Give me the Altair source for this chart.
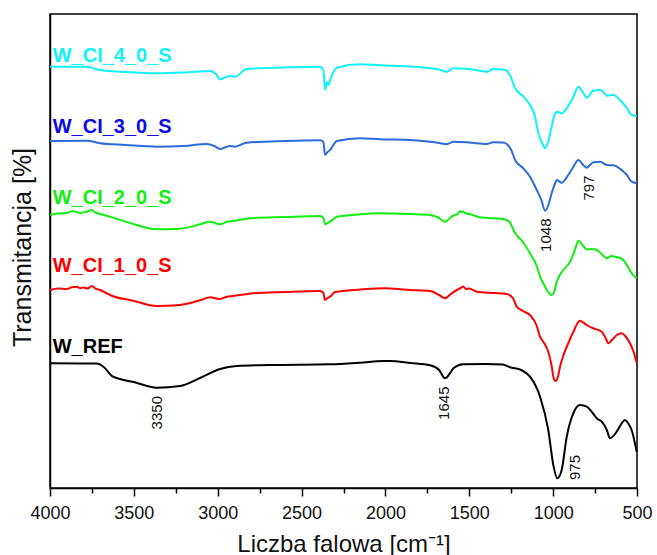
import altair as alt
import pandas as pd

# ---- data ----
series_names = ["W_REF", "W_CI_1_0_S", "W_CI_2_0_S", "W_CI_3_0_S", "W_CI_4_0_S"]
line_colors = ["#000000", "#FF0000", "#11EE11", "#2B6CD9", "#11F2F8"]
label_colors = ["#000000", "#FF0000", "#11EE11", "#0A0AE6", "#11F2F8"]

ref_wn = [4000, 3720, 3680, 3624, 3500, 3364, 3225, 3106, 2986, 2887, 2700, 2330, 2151, 2012, 1973,
          1850, 1734, 1680, 1645, 1610, 1595, 1536, 1400, 1300, 1257, 1190, 1138, 1078, 1029, 999,
          975, 949, 919, 880, 840, 800, 760, 740, 710, 680, 661, 621, 590, 572, 550, 532, 502]
ref_val = [124.7, 124.5, 121, 111.3, 106, 100.3, 102, 110, 119, 122, 123, 123.7, 125.3, 127, 127,
           125, 122.7, 118, 109.7, 116, 119.7, 123.7, 124, 123.5, 120.7, 118, 111.3, 91.3, 58, 23,
           9.7, 18, 51.3, 74.7, 83, 81.3, 74, 69.7, 66.3, 58, 49.7, 56.3, 65, 68, 64, 58, 36.3]

s1_wn = [4000, 3950, 3900, 3870, 3841, 3820, 3800, 3775, 3751, 3730, 3700, 3670, 3642, 3504, 3364,
         3225, 3100, 3046, 3020, 2986, 2950, 2907, 2788, 2600, 2390, 2370, 2360, 2345, 2330, 2300,
         2131, 2012, 1850, 1734, 1680, 1645, 1610, 1575, 1555, 1536, 1520, 1500, 1456, 1350, 1277,
         1240, 1217, 1180, 1138, 1100, 1078, 1050, 1029, 1010, 995, 985, 970, 959, 940, 910, 880,
         840, 800, 761, 730, 710, 690, 671, 650, 620, 592, 570, 542, 520, 502]
s1_val = [198, 199.5, 199, 200.8, 201.3, 199.8, 200.5, 199.5, 202, 199.5, 198, 195.5, 193, 187.3, 182,
          183, 188, 190.7, 190, 189, 191, 192, 194.7, 196, 197, 195, 188, 190, 191.3, 196,
          198.7, 199.7, 198, 197, 193, 189.7, 194, 198, 199.5, 201.5, 199, 199.5, 196.3, 195, 194,
          190, 181.3, 177, 173, 163, 151.3, 144, 136.3, 123, 108.7, 107, 112, 121.3, 132, 144.7, 156,
          167.3, 163, 159.7, 158, 156.3, 151, 144.7, 148, 153, 154.7, 152, 144.7, 136, 125.3]

s2_wn = [4000, 3950, 3900, 3870, 3841, 3820, 3800, 3775, 3751, 3730, 3700, 3670, 3642, 3503, 3364,
         3225, 3100, 3046, 2986, 2950, 2897, 2807, 2600, 2390, 2370, 2360, 2345, 2330, 2290, 2151,
         2032, 1850, 1734, 1680, 1645, 1600, 1570, 1555, 1536, 1520, 1500, 1436, 1297, 1260, 1227,
         1180, 1138, 1100, 1078, 1050, 1030, 1009, 990, 979, 960, 939, 899, 870, 850, 820, 800,
         770, 740, 710, 680, 655, 631, 600, 582, 550, 532, 502]
s2_val = [273, 274.5, 275, 276.8, 276.3, 275, 275.5, 276.5, 278, 275.5, 274, 272.5, 271.3, 264, 258.7,
          259.3, 264, 266.3, 263.7, 266, 267.3, 269.7, 271, 272, 270, 263.7, 265, 266.3, 271.3, 273.7,
          274.7, 274, 273, 270, 266.3, 272, 274, 276.8, 276.3, 274.5, 274, 270.7, 269, 266, 254.7,
          246, 234.7, 223, 211.3, 202, 196, 193, 198, 206, 213, 218, 226.3, 238, 247.3, 242, 238.7,
          239, 238, 234, 229.7, 232, 231.3, 230, 228, 220, 214.7, 209.7]

s3_wn = [4000, 3781, 3702, 3550, 3364, 3200, 3066, 3020, 2986, 2950, 2927, 2897, 2827, 2600, 2390,
         2370, 2360, 2345, 2330, 2290, 2151, 2032, 1850, 1734, 1680, 1635, 1595, 1500, 1396, 1357,
         1300, 1277, 1250, 1227, 1180, 1138, 1098, 1070, 1048, 1030, 1009, 990, 979, 949, 910, 880,
         850, 820, 800, 761, 721, 680, 641, 592, 560, 532, 502]
s3_val = [347, 347.3, 344.7, 343, 341.3, 342, 344, 342, 339, 341, 342, 341.3, 345.3, 347, 347.7,
          346, 333, 336, 338, 347, 349.7, 348.7, 348, 346.3, 345, 343.7, 346.3, 345.5, 344, 345.7,
          345.5, 344, 338, 328, 320, 311.3, 298, 288, 277.3, 282, 294.7, 304, 308, 305.3, 313, 321,
          328, 323, 320.3, 325.7, 326.3, 323, 322.7, 318, 313, 306.3, 304.7]

s4_wn = [4000, 3781, 3702, 3550, 3364, 3200, 3046, 3010, 2986, 2950, 2927, 2897, 2827, 2600, 2390,
         2370, 2360, 2350, 2340, 2330, 2290, 2151, 2032, 1850, 1734, 1680, 1635, 1595, 1500, 1396,
         1357, 1300, 1277, 1250, 1227, 1180, 1138, 1110, 1088, 1060, 1048, 1030, 1009, 990, 979,
         949, 910, 880, 850, 820, 800, 761, 721, 700, 680, 641, 592, 560, 532, 502]
s4_val = [421.3, 421.3, 418, 416, 414.7, 415.5, 417, 414, 408.7, 411, 412, 411.3, 419, 420.5, 421.3,
          418, 398, 406, 403, 408, 420.3, 423.7, 422.7, 421.5, 419.7, 418.5, 416.3, 419.7, 419, 416.3,
          419, 418.5, 417.3, 410, 399.7, 392, 383, 373, 354.7, 343, 339.7, 346, 361.3, 374, 376.3,
          374.7, 382, 391, 401.3, 395, 390.3, 397.3, 398, 396, 392.3, 393, 386.3, 380, 373, 372]

label_wn = [3984, 3984, 3984, 3984, 3984]
label_val = [135.3, 216.3, 284, 354.7, 426]

peak_text = ["3350", "1645", "975", "1048", "797"]
peak_wn = [3360, 1650, 870, 1042, 784]
peak_val = [92, 101.5, 33, 269.5, 312.5]

tick_values = [4000, 3750, 3500, 3250, 3000, 2750, 2500, 2250, 2000, 1750, 1500, 1250, 1000, 750, 500]

# ---- tables ----
rows = []
for name, wn, val in [("W_REF", ref_wn, ref_val), ("W_CI_1_0_S", s1_wn, s1_val),
                      ("W_CI_2_0_S", s2_wn, s2_val), ("W_CI_3_0_S", s3_wn, s3_val),
                      ("W_CI_4_0_S", s4_wn, s4_val)]:
    for w, v in zip(wn, val):
        rows.append({"series": name, "wn": w, "t": v})
df = pd.DataFrame(rows)

lab_df = pd.DataFrame({"series": series_names, "wn": label_wn, "t": label_val,
                       "color": label_colors})
peak_df = pd.DataFrame({"text": peak_text, "wn": peak_wn, "t": peak_val})

FONT = "Liberation Sans, Arial, sans-serif"

x_scale = alt.Scale(domain=[500, 4000], reverse=True, nice=False, zero=False)
y_scale = alt.Scale(domain=[0, 474], nice=False, zero=False)

x_axis = alt.Axis(
    title="Liczba falowa [cm⁻¹]", values=tick_values, format="d",
    labelExpr="datum.value % 500 === 0 ? datum.label : ''",
    tickSize=alt.ExprRef("datum.value % 500 === 0 ? 8 : 5"),
    tickColor="black", tickWidth=1.5, domainColor="black", domainWidth=1.5,
    labelFont=FONT, labelFontSize=18, labelColor="#111111", labelPadding=8,
    labelFlush=False, labelOverlap=False,
    titleFont=FONT, titleFontSize=24, titleFontWeight="normal", titleColor="#111111",
    titleY=63, titleBaseline="alphabetic", grid=False,
)
y_axis = alt.Axis(
    title="Transmitancja [%]", ticks=False, labels=False, grid=False,
    domainColor="black", domainWidth=1.5,
    titleFont=FONT, titleFontSize=25, titleFontWeight="normal", titleColor="#111111",
    titleX=-20, titleY=233, titleAngle=270, titleAlign="center", titleBaseline="alphabetic",
)

lines = alt.Chart(df).mark_line(strokeWidth=2, interpolate="monotone").encode(
    x=alt.X("wn:Q", scale=x_scale, axis=x_axis),
    y=alt.Y("t:Q", scale=y_scale, axis=y_axis),
    color=alt.Color("series:N", scale=alt.Scale(domain=series_names, range=line_colors), legend=None),
    detail="series:N",
    order=alt.Order("wn:Q"),
)

labels = alt.Chart(lab_df).mark_text(
    align="left", baseline="alphabetic", font=FONT, fontSize=20, fontWeight="bold"
).encode(
    x=alt.X("wn:Q", scale=x_scale),
    y=alt.Y("t:Q", scale=y_scale),
    text="series:N",
    color=alt.Color("color:N", scale=None),
)

peaks = alt.Chart(peak_df).mark_text(
    angle=270, align="right", baseline="middle", font=FONT, fontSize=15, color="#111111"
).encode(
    x=alt.X("wn:Q", scale=x_scale),
    y=alt.Y("t:Q", scale=y_scale),
    text="text:N",
)

chart = alt.layer(lines, labels, peaks).properties(
    width=587, height=474,
    autosize=alt.AutoSizeParams(type="none"),
    padding={"left": 50, "top": 14, "right": 20, "bottom": 67},
).configure_view(stroke="black", strokeWidth=1.5)

chart.save("out.html", embed_options={"renderer": "svg", "actions": False})
